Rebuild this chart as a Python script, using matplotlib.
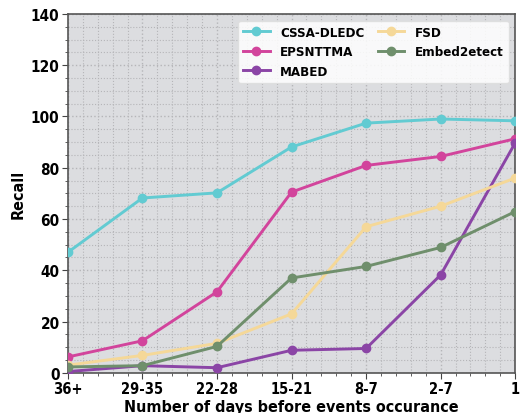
import matplotlib
matplotlib.use("Agg")
import matplotlib.pyplot as plt
from matplotlib.ticker import MultipleLocator

# -----------------------------
# Data
# -----------------------------
day_labels = ["36+", "29-35", "22-28", "15-21", "8-7", "2-7", "1"]
cssa_dledc = [47.0, 68.2, 70.2, 88.1, 97.4, 99.0, 98.3]
epsnttma = [6.2, 12.5, 31.6, 70.5, 80.9, 84.4, 91.3]
mabed = [0.5, 2.8, 2.0, 8.8, 9.5, 38.2, 89.7]
fsd = [3.0, 6.8, 11.5, 23.0, 57.0, 65.0, 76.0]
embed2etect = [2.3, 2.8, 10.3, 37.0, 41.5, 48.9, 62.9]

series = [
    ("CSSA-DLEDC", cssa_dledc, "#62cbd2"),
    ("EPSNTTMA", epsnttma, "#d2449c"),
    ("MABED", mabed, "#8b45a6"),
    ("FSD", fsd, "#f5d898"),
    ("Embed2etect", embed2etect, "#6f8f6c"),
]

plt.rcParams["font.family"] = "DejaVu Sans"
plt.rcParams["font.stretch"] = "condensed"
plt.rcParams["font.weight"] = "bold"
plt.rcParams["axes.labelweight"] = "bold"

# -----------------------------
# Plot
# -----------------------------
fig = plt.figure(figsize=(5.22, 4.14), dpi=100)
ax = fig.add_axes([0.130, 0.097, 0.857, 0.867])
ax.set_facecolor("#dcdde0")

x = list(range(len(day_labels)))
for name, vals, col in series:
    ax.plot(x, vals, color=col, lw=2.1, marker="o", ms=6, label=name, zorder=3)

ax.set_xlim(0, 6)
ax.set_ylim(0, 140)
ax.set_xticks(x)
ax.set_xticklabels(day_labels, fontsize=10.5)
ax.yaxis.set_major_locator(MultipleLocator(20))
ax.yaxis.set_minor_locator(MultipleLocator(5))
ax.xaxis.set_minor_locator(MultipleLocator(0.2))
ax.tick_params(axis="y", labelsize=11)

ax.grid(which="major", color="#b5b5b8", linestyle=":", linewidth=1.0)
ax.grid(which="minor", color="#b5b5b8", linestyle=":", linewidth=0.8)
ax.tick_params(which="major", length=4, color="#444444", pad=2)
ax.tick_params(which="minor", length=2, color="#444444")
for sp in ax.spines.values():
    sp.set_color("#555555")
    sp.set_linewidth(1.2)

ax.set_xlabel("Number of days before events occurance", fontsize=11.5, labelpad=2)
ax.set_ylabel("Recall", fontsize=11.5, labelpad=4)

leg = ax.legend(ncol=2, loc="upper right", prop={"size": 9.5, "weight": "bold", "stretch": "condensed"},
                frameon=True, fancybox=True, framealpha=0.85, edgecolor="#dddddd",
                handlelength=2.0, columnspacing=1.0, borderaxespad=0.5, labelspacing=0.5)

fig.savefig("out.png", dpi=100)
plt.close()
